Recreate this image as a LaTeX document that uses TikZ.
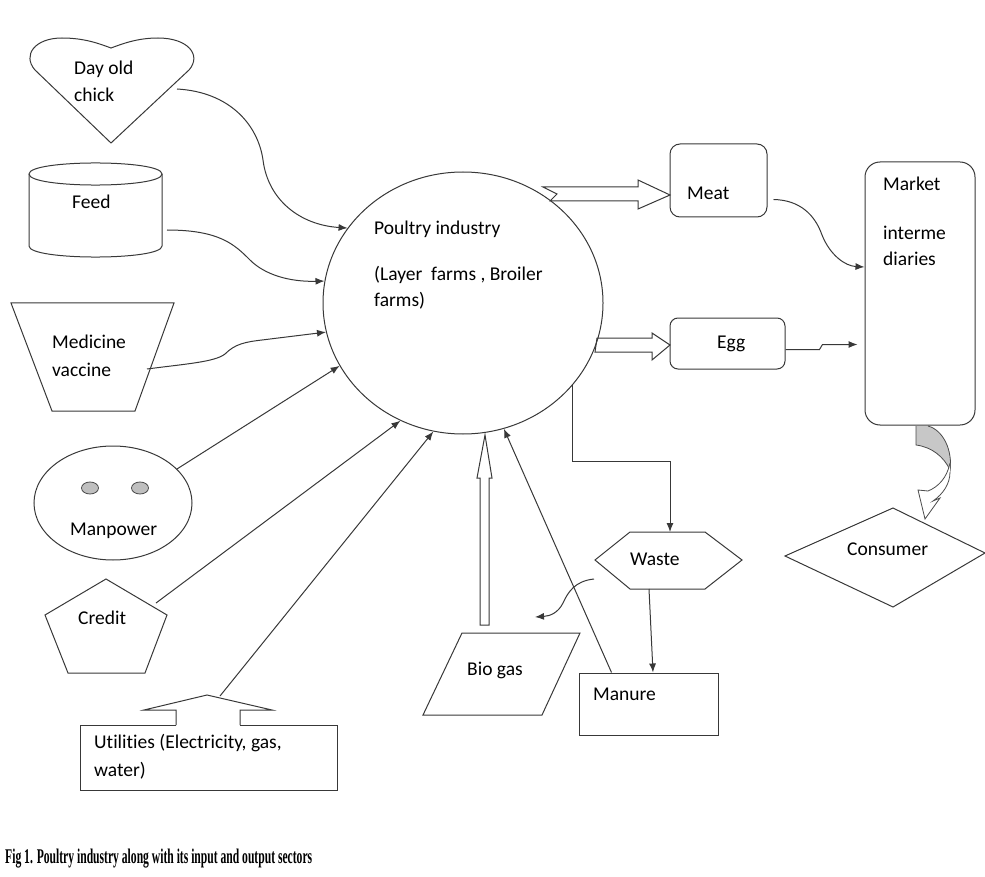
\documentclass[tikz,border=0pt]{standalone}
\usepackage{fontspec}
\usepackage{graphicx}
\setmainfont{Carlito}[Ligatures=NoCommon]
\newfontfamily\capfont{Liberation Serif}
\usetikzlibrary{shapes.geometric,arrows.meta}
\newcommand\mylblfont{\fontsize{19.5}{27.5}\selectfont}
\begin{document}
\begin{tikzpicture}[x=1pt,y=-1pt,
  ln/.style={draw=black!78, line width=1pt},
  arr/.style={ln, -{Latex[length=9pt,width=7pt]}},
  lbl/.style={anchor=base west, inner sep=0pt, font=\mylblfont},
  hollow/.style={ln, fill=white, line join=miter},
  rbox/.style={ln, rectangle, rounded corners=#1, inner sep=0pt},
  eye/.style={draw=black!70, fill=black!25, ellipse, minimum width=17pt, minimum height=12pt, inner sep=0pt, line width=0.8pt}]
\useasboundingbox (0,0) rectangle (985,877);

% ---------- hollow arrows (under the circle) ----------
\draw[hollow] (557,194) -- (543,187) -- (638,187) -- (638,180) -- (670,195) -- (638,209) -- (638,201) -- (550,201) -- cycle;
\draw[hollow] (597,338) -- (652,338) -- (652,333) -- (670,345) -- (652,360) -- (652,352) -- (595,352) -- cycle;
\draw[hollow] (480,625) -- (480,478) -- (477,478) -- (485,435) -- (492,478) -- (489,478) -- (489,625) -- cycle;

% ---------- central circle ----------
\node[ln, ellipse, minimum width=280pt, minimum height=262pt, inner sep=0pt] (pi) at (463,303) {};
\node[lbl] (pi1) at (374,235) {Poultry industry};
\node[lbl] (pi2) at (374,280) {(Layer\ \ farms , Broiler};
\node[lbl] (pi3) at (374,307) {farms)};

% ---------- Day old chick (heart) ----------
\draw[ln] (111,143) -- (35,70) .. controls (22,55) and (35,38) .. (62,38)
  .. controls (85,38) and (100,44) .. (111,48)
  .. controls (122,44) and (137,38) .. (158,38)
  .. controls (188,38) and (202,55) .. (189,70) -- cycle;
\node[lbl] (chick1) at (74,75) {Day old};
\node[lbl] (chick2) at (74,102) {chick};
\coordinate (chickR) at (177,89);

% ---------- Feed (cylinder) ----------
\draw[ln] (29,174) -- (29,246) .. controls (29,260.7) and (162,260.7) .. (162,246) -- (162,174);
\draw[ln] (29,174) .. controls (29,159.3) and (162,159.3) .. (162,174) .. controls (162,188.7) and (29,188.7) .. (29,174);
\node[lbl] (feed) at (72,209) {Feed};
\coordinate (feedR) at (167,230);

% ---------- Medicine (trapezoid) ----------
\draw[ln] (11,303) -- (174,303) -- (135,411) -- (52,411) -- cycle;
\node[lbl] (med1) at (52,348) {Medicine};
\node[lbl] (med2) at (52,376) {vaccine};
\coordinate (medR) at (147,369);

% ---------- Manpower ----------
\node[ln, ellipse, minimum width=158pt, minimum height=114pt, inner sep=0pt] (manp) at (113,503) {};
\node[eye] (eyeL) at (90,488) {};
\node[eye] (eyeR) at (140,488) {};
\node[lbl] (manpt) at (70,535) {Manpower};

% ---------- Credit (pentagon) ----------
\draw[ln] (106,579) -- (167,615) -- (145,673) -- (68,673) -- (45,615) -- cycle;
\node[lbl] (credt) at (78,624) {Credit};
\coordinate (credR) at (156,603);

% ---------- Utilities ----------
\draw[ln] (176,725) -- (80,725) -- (80,790) -- (337,790) -- (337,725) -- (240,725);
\draw[ln, line join=miter] (176,725) -- (176,710) -- (144,710) -- (207,695) -- (272,710) -- (240,710) -- (240,725);
\node[lbl] (util1) at (94,748) {Utilities (Electricity, gas,};
\node[lbl] (util2) at (94,776) {water)};
\coordinate (utilTip) at (220,696);

% ---------- Meat / Egg / Market ----------
\node[rbox=10pt, minimum width=97pt, minimum height=73pt] (meat) at (718.5,180.5) {};
\node[lbl] (meatt) at (687,200) {Meat};
\node[rbox=8pt, minimum width=115pt, minimum height=51pt] (egg) at (727.5,343.5) {};
\node[lbl] (eggt) at (717,348) {Egg};
\node[rbox=15pt, minimum width=110pt, minimum height=263pt] (market) at (920,293.5) {};
\node[lbl] (mk1) at (883,191) {Market};
\node[lbl] (mk2) at (883,240) {interme};
\node[lbl] (mk3) at (883,266) {diaries};

% ---------- Consumer ----------
\draw[ln] (785,556) -- (893,508) -- (985,553) -- (893,607) -- cycle;
\node[lbl] (cons) at (847,555) {Consumer};

% curved block arrow market -> consumer
\fill[black!22] (916,426) -- (928,426) .. controls (943,430) and (953,450) .. (950,470) .. controls (944,457) and (932,447) .. (916,445) -- cycle;
\draw[draw=black!70, line width=0.8pt] (916,426) -- (916,445) .. controls (932,447) and (944,457) .. (950,470);
\draw[draw=black!70, line width=0.8pt] (928,426) .. controls (943,430) and (953,450) .. (950,472);
\draw[draw=black!70, fill=white, line width=0.8pt, line join=miter] (950,463) .. controls (947,478) and (938,487) .. (928,491) -- (918,490) -- (925,519) -- (940,498) -- (933,501) .. controls (943,494) and (950,484) .. (950,472);

% ---------- Waste / Bio gas / Manure ----------
\draw[ln] (595,560) -- (630,532) -- (705,532) -- (742,560) -- (705,589) -- (630,589) -- cycle;
\node[lbl] (wastet) at (630,565) {Waste};
\coordinate (wasteT) at (670,532);
\coordinate (wasteB) at (649,589);
\coordinate (wasteL) at (594,579);
\draw[ln] (462,633) -- (580,633) -- (542,715) -- (423,715) -- cycle;
\node[lbl] (biot) at (467,675) {Bio gas};
\coordinate (bioIn) at (535,617);
\node[ln, rectangle, minimum width=139pt, minimum height=62pt, inner sep=0pt] (manure) at (648.5,704) {};
\node[lbl] (mant) at (593,700) {Manure};

% ---------- connectors ----------
\draw[arr] (chickR) .. controls (230,92) and (258,125) .. (263,160) .. controls (268,200) and (300,225) .. (pi.147.5);
\draw[arr] (feedR) .. controls (220,230) and (235,245) .. (250,260) .. controls (265,275) and (290,282) .. (pi.171.9);
\draw[arr] (medR) .. controls (185,364) and (215,362) .. (225,354) .. controls (235,344) and (245,342) .. (262,340) -- (pi.192);
\draw[arr] (manp.28) -- (pi.207.6);
\draw[arr] (credR) -- (pi.242.2);
\draw[arr] (utilTip) -- (pi.257);
\draw[arr] ([xshift=-37pt]manure.north) -- (pi.288.3);
\draw[arr] (pi.323) -- ++(0,76) -| (wasteT);
\draw[arr] (wasteB) -- ([xshift=4.5pt]manure.north);
\draw[arr] (wasteL) .. controls (575,581) and (568,592) .. (563,603) .. controls (558,613) and (550,616) .. (bioIn);
\draw[arr] ([xshift=6pt,yshift=-19pt]meat.east) .. controls (800,200) and (815,215) .. (822,235) .. controls (830,255) and (845,266) .. ([yshift=26.5pt]market.west);
\draw[arr] ([yshift=-6pt]egg.east) -- ++(34,0) -- ++(3,-5) -- ([xshift=-7pt,yshift=-51pt]market.west);

% ---------- caption ----------
\node[anchor=base west, inner sep=0pt] (caption) at (5,863) {\resizebox{307pt}{14.5pt}{\capfont\bfseries Fig 1. Poultry industry along with its input and output sectors}};
\end{tikzpicture}
\end{document}
